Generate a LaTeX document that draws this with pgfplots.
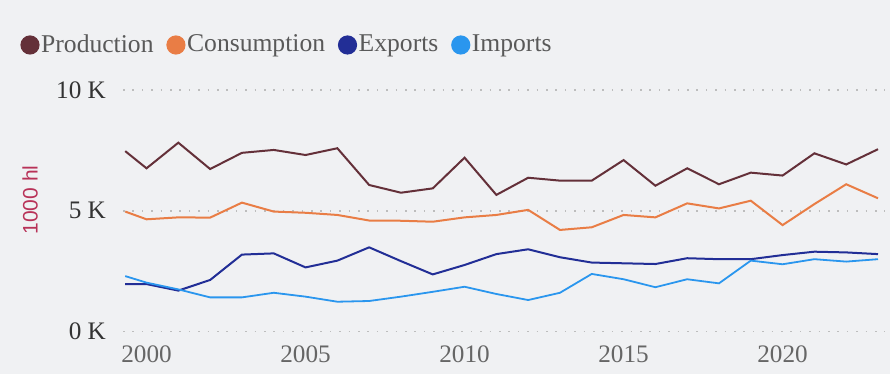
\documentclass[border=0pt]{standalone}
\usepackage{pgfplots}
\pgfplotsset{compat=1.18}
\usepackage{pgfplotstable}
\usepackage{fontspec}
\setmainfont{Liberation Serif}
\newfontfamily\labelfont{Liberation Sans}
\definecolor{bg}{HTML}{F0F1F3}
\definecolor{cprod}{HTML}{643039}
\definecolor{ccons}{HTML}{E97D45}
\definecolor{cexp}{HTML}{222E96}
\definecolor{cimp}{HTML}{2A96EE}
\definecolor{gridc}{HTML}{BDBDBD}
\definecolor{ylab}{HTML}{B83258}
\definecolor{legtext}{HTML}{595959}
\definecolor{ytext}{HTML}{333333}
\definecolor{xtext}{HTML}{666666}

\pgfplotstableread{
year prod cons exp imp
1999.33 7.47 4.97 1.97 2.30
2000 6.76 4.65 1.97 2.03
2001 7.82 4.73 1.70 1.75
2002 6.73 4.72 2.14 1.42
2003 7.40 5.34 3.19 1.42
2004 7.52 4.97 3.24 1.61
2005 7.31 4.92 2.66 1.45
2006 7.59 4.83 2.94 1.24
2007 6.07 4.60 3.49 1.27
2008 5.75 4.59 2.92 1.45
2009 5.93 4.55 2.37 1.65
2010 7.20 4.73 2.76 1.86
2011 5.66 4.83 3.21 1.56
2012 6.37 5.04 3.41 1.31
2013 6.25 4.21 3.08 1.61
2014 6.25 4.32 2.86 2.39
2015 7.10 4.83 2.83 2.17
2016 6.04 4.73 2.80 1.84
2017 6.76 5.31 3.04 2.17
2018 6.10 5.10 3.00 2.00
2019 6.58 5.42 3.00 2.94
2020 6.46 4.41 3.17 2.79
2021 7.38 5.28 3.31 3.00
2022 6.92 6.10 3.28 2.90
2023 7.55 5.52 3.21 3.00
}\datatable

\begin{document}
\begin{tikzpicture}
\fill[bg] (0,0) rectangle (445pt,187pt);
\useasboundingbox (0,0) rectangle (445pt,187pt);
\begin{axis}[
  at={(61.5pt,21.15pt)}, anchor=south west,
  scale only axis, width=381pt, height=120.85pt,
  xmin=1999.26, xmax=2023.22, ymin=0, ymax=10,
  axis line style={draw=none},
  major tick length=0pt,
  xtick={2000,2005,2010,2015,2020},
  xticklabels={2000,2005,2010,2015,2020},
  ytick={0,5,10},
  yticklabels={0 K,5 K,10 K},
  /pgf/number format/assume math mode=true,
  ymajorgrids,
  grid style={gridc, line width=0.8pt, dash pattern=on 0.8pt off 3.9pt},
  yticklabel style={font=\fontsize{12.6}{14}\selectfont, text=ytext, xshift=-5pt},
  xticklabel style={font=\fontsize{12.6}{14}\selectfont, text=xtext, yshift=-3.5pt},
  every axis y label/.style={at={(axis description cs:-0.122,0.545)}, anchor=center, rotate=90},
  ylabel={\labelfont 1000 hl},
  ylabel style={font=\fontsize{10.5}{12}\selectfont, text=ylab},
  clip=true,
  no markers,
  legend columns=4,
  legend image code/.code={\fill[#1, draw=none] (4.8pt,0) circle (4.8pt);},
  legend style={at={(axis description cs:0,1)}, anchor=west, xshift=-51.5pt, yshift=22.5pt,
    draw=none, fill=none, inner sep=0pt, row sep=0pt,
    font=\fontsize{12.8}{14}\selectfont, text=legtext,
    nodes={inner sep=0.8pt},
    /tikz/every even column/.append style={column sep=5.6pt}},
]
\addplot[cprod, line width=1pt] table[x=year, y=prod] {\datatable};
\addlegendentry{Production}
\addplot[ccons, line width=1pt] table[x=year, y=cons] {\datatable};
\addlegendentry{Consumption}
\addplot[cexp, line width=1pt] table[x=year, y=exp] {\datatable};
\addlegendentry{Exports}
\addplot[cimp, line width=0.9pt] table[x=year, y=imp] {\datatable};
\addlegendentry{Imports}
\end{axis}
\end{tikzpicture}
\end{document}
